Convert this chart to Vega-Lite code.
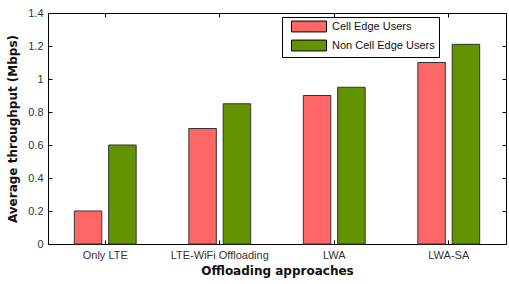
{
  "$schema": "https://vega.github.io/schema/vega-lite/v6.json",
  "width": 458,
  "height": 231,
  "autosize": {"type": "none"},
  "padding": {"left": 48, "top": 13, "right": 3, "bottom": 40},
  "background": "white",
  "config": {
    "view": {"stroke": "#000", "strokeWidth": 1},
    "font": "Liberation Sans",
    "axis": {
      "labelFont": "Liberation Sans",
      "labelFontSize": 11,
      "labelColor": "#333",
      "titleFont": "DejaVu Sans",
      "titleFontWeight": "bold",
      "titleFontSize": 12,
      "titleColor": "#111",
      "domainColor": "#000",
      "tickColor": "#000",
      "grid": false
    }
  },
  "data": {
    "values": [
      {"approach": "Only LTE", "series": "Cell Edge Users", "value": 0.2},
      {"approach": "Only LTE", "series": "Non Cell Edge Users", "value": 0.6},
      {"approach": "LTE-WiFi Offloading", "series": "Cell Edge Users", "value": 0.7},
      {"approach": "LTE-WiFi Offloading", "series": "Non Cell Edge Users", "value": 0.85},
      {"approach": "LWA", "series": "Cell Edge Users", "value": 0.9},
      {"approach": "LWA", "series": "Non Cell Edge Users", "value": 0.95},
      {"approach": "LWA-SA", "series": "Cell Edge Users", "value": 1.1},
      {"approach": "LWA-SA", "series": "Non Cell Edge Users", "value": 1.21}
    ]
  },
  "layer": [
    {
      "mark": {"type": "bar", "stroke": "#333", "strokeWidth": 1},
      "encoding": {
        "x": {
          "field": "approach", "type": "nominal", "sort": null,
          "scale": {"paddingInner": 0.4, "paddingOuter": 0.2},
          "axis": {"title": "Offloading approaches", "labelAngle": 0, "tickSize": -4, "labelPadding": 9, "titlePadding": 5, "domain": false}
        },
        "xOffset": {
          "field": "series", "type": "nominal",
          "scale": {"paddingInner": 0.2, "paddingOuter": 0.1}
        },
        "y": {
          "field": "value", "type": "quantitative",
          "scale": {"domain": [0, 1.4], "nice": false},
          "axis": {"title": "Average throughput (Mbps)", "values": [0, 0.2, 0.4, 0.6, 0.8, 1, 1.2, 1.4], "format": ".1~f", "tickSize": -4, "labelPadding": 9, "titlePadding": 8, "domain": false}
        },
        "color": {
          "field": "series", "type": "nominal",
          "scale": {"domain": ["Cell Edge Users", "Non Cell Edge Users"], "range": ["#FF6666", "#639400"]},
          "legend": {
            "title": null,
            "orient": "none",
            "legendX": 234,
            "legendY": 4,
            "fillColor": "white",
            "strokeColor": "#000",
            "padding": 4,
            "rowPadding": 4,
            "symbolType": "M0,-1.55H10V1.55H0Z",
            "symbolSize": 49,
            "symbolStrokeColor": "#000",
            "symbolStrokeWidth": 1,
            "symbolOpacity": 1,
            "labelFont": "Liberation Sans",
            "labelFontSize": 11,
            "labelColor": "#111",
            "labelOffset": 35
          }
        }
      }
    },
    {
      "mark": {"type": "point", "opacity": 0},
      "encoding": {
        "x": {
          "field": "approach", "type": "nominal", "sort": null,
          "axis": {"orient": "top", "title": null, "labels": false, "tickSize": -4, "domain": false}
        },
        "y": {
          "field": "value", "type": "quantitative",
          "axis": {"orient": "right", "title": null, "labels": false, "values": [0, 0.2, 0.4, 0.6, 0.8, 1, 1.2, 1.4], "tickSize": -4, "domain": false}
        }
      }
    }
  ],
  "resolve": {"axis": {"x": "independent", "y": "independent"}}
}
